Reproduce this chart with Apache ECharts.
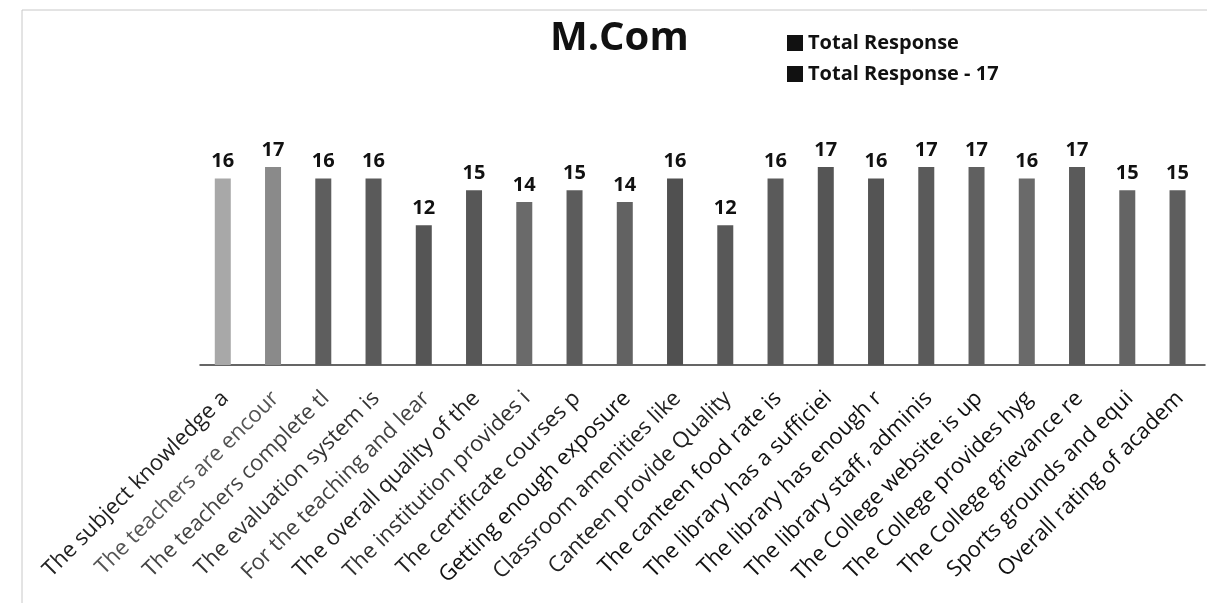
<!DOCTYPE html>
<html><head><meta charset="utf-8">
<script src="https://cdn.jsdelivr.net/npm/echarts@6/dist/echarts.min.js"></script>
<style>html,body{margin:0;padding:0;background:#fff}#c{width:1207px;height:603px}</style>
</head><body><div id="c"></div>
<script>
const categories = [
  "The subject knowledge a","The teachers are encour","The teachers complete tl","The evaluation system is",
  "For the teaching and lear","The overall quality of the","The institution provides i","The certificate courses p",
  "Getting enough exposure","Classroom amenities like","Canteen provide Quality","The canteen food rate is",
  "The library has a sufficiei","The library has enough r","The library staff, adminis","The College website is up",
  "The College provides hyg","The College grievance re","Sports grounds and equi","Overall rating of academ"
];
const totalResponse = [16,17,16,16,12,15,14,15,14,16,12,16,17,16,17,17,16,17,15,15];
const totalResponse17 = [];
const barShades = ["#a8a8a8","#8a8a8a","#5e5e5e","#5a5a5a","#555555","#575757","#6a6a6a","#5c5c5c","#626262","#505050",
  "#585858","#5a5a5a","#555555","#545454","#5a5a5a","#606060","#6a6a6a","#5a5a5a","#646464","#5e5e5e"];
const labelShades = ["#222","#555","#444","#333","#444","#222","#333","#222","#111","#222","#222","#111","#111","#111","#111","#111","#111","#111","#111","#111"];

const chart = echarts.init(document.getElementById('c'));
chart.setOption({
  backgroundColor:'#fff',
  animation:false,
  title:{text:'M.Com',left:545,top:14,textStyle:{fontFamily:'Open Sans',fontWeight:'bold',fontSize:40,color:'#111'}},
  legend:{orient:'vertical',left:782,top:28,itemWidth:16,itemHeight:16,itemGap:11,
    textStyle:{fontFamily:'Open Sans',fontWeight:'bold',fontSize:20,color:'#111'},
    data:[{name:'Total Response',icon:'rect',itemStyle:{color:'#111'}},{name:'Total Response - 17',icon:'rect',itemStyle:{color:'#111'}}]},
  graphic:[{type:'rect',shape:{x:22,y:10,width:1220,height:620},style:{fill:'none',stroke:'#c8c8c8',lineWidth:1},silent:true}],
  grid:{left:200,right:2,top:132,bottom:238},
  xAxis:{type:'category',data:categories,
    axisLine:{lineStyle:{color:'#333',width:1.5}},axisTick:{show:false},
    axisLabel:{interval:0,rotate:45,margin:30,fontFamily:'Open Sans',fontSize:22,
      color:function(v,i){return labelShades[i];}}},
  yAxis:{type:'value',min:0,max:20,show:false,splitLine:{show:false}},
  series:[
    {name:'Total Response',type:'bar',data:totalResponse,barWidth:16,
      itemStyle:{color:function(p){return barShades[p.dataIndex];}},
      label:{show:true,position:'top',distance:7,fontFamily:'Open Sans',fontWeight:'bold',fontSize:20,color:'#111'}},
    {name:'Total Response - 17',type:'bar',data:totalResponse17,barGap:'-100%',itemStyle:{color:'#111'}}
  ]
});
</script></body></html>
